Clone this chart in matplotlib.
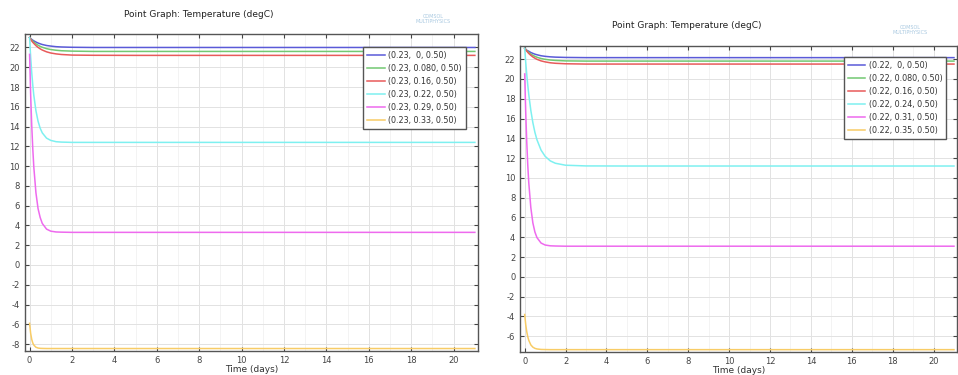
import numpy as np
import matplotlib
matplotlib.use("Agg")
import matplotlib.pyplot as plt

plt.rcParams["axes.unicode_minus"] = False

# time points (days) shared by all series
t = [0, 0.05, 0.1, 0.15, 0.2, 0.3, 0.4, 0.5, 0.6, 0.8, 1.0, 1.25, 1.5, 2.0, 3.0, 5.0, 21.0]

# left graph: temperature (degC) at points (0.23, y, 0.50)
left_labels = ["(0.23,  0, 0.50)", "(0.23, 0.080, 0.50)", "(0.23, 0.16, 0.50)",
               "(0.23, 0.22, 0.50)", "(0.23, 0.29, 0.50)", "(0.23, 0.33, 0.50)"]
left_blue = [23.0, 22.9, 22.82, 22.74, 22.67, 22.55, 22.45, 22.37, 22.3, 22.2, 22.14, 22.08, 22.05, 22.02, 22.0, 22.0, 22.0]
left_green = [23.0, 22.87, 22.75, 22.64, 22.54, 22.37, 22.23, 22.11, 22.02, 21.88, 21.79, 21.72, 21.67, 21.63, 21.6, 21.6, 21.6]
left_red = [23.0, 22.83, 22.67, 22.53, 22.41, 22.19, 22.01, 21.86, 21.74, 21.56, 21.44, 21.35, 21.29, 21.23, 21.21, 21.2, 21.2]
left_cyan = [23.0, 21.08, 19.5, 18.22, 17.16, 15.6, 14.54, 13.83, 13.36, 12.83, 12.6, 12.47, 12.43, 12.4, 12.4, 12.4, 12.4]
left_magenta = [21.3, 17.3, 14.2, 11.8, 9.9, 7.3, 5.7, 4.8, 4.2, 3.63, 3.42, 3.34, 3.32, 3.3, 3.3, 3.3, 3.3]
left_yellow = [-5.9, -6.9, -7.51, -7.88, -8.1, -8.32, -8.4, -8.43, -8.44, -8.45, -8.45, -8.45, -8.45, -8.45, -8.45, -8.45, -8.45]

# right graph: temperature (degC) at points (0.22, y, 0.50)
right_labels = ["(0.22,  0, 0.50)", "(0.22, 0.080, 0.50)", "(0.22, 0.16, 0.50)",
                "(0.22, 0.24, 0.50)", "(0.22, 0.31, 0.50)", "(0.22, 0.35, 0.50)"]
right_blue = [23.1, 22.99, 22.9, 22.85, 22.79, 22.67, 22.58, 22.5, 22.44, 22.34, 22.28, 22.23, 22.2, 22.17, 22.15, 22.15, 22.15]
right_green = [23.1, 22.98, 22.86, 22.76, 22.67, 22.51, 22.38, 22.28, 22.19, 22.06, 21.98, 21.91, 21.87, 21.82, 21.8, 21.8, 21.8]
right_red = [23.1, 22.95, 22.81, 22.69, 22.57, 22.38, 22.22, 22.09, 21.98, 21.82, 21.72, 21.63, 21.58, 21.53, 21.5, 21.5, 21.5]
right_cyan = [23.1, 21.7, 20.47, 19.38, 18.42, 16.82, 15.58, 14.6, 13.85, 12.81, 12.18, 11.72, 11.48, 11.28, 11.21, 11.2, 11.2]
right_magenta = [20.5, 16.65, 13.66, 11.3, 9.5, 7.0, 5.45, 4.53, 3.97, 3.42, 3.22, 3.14, 3.12, 3.1, 3.1, 3.1, 3.1]
right_yellow = [-3.8, -4.81, -5.53, -6.04, -6.41, -6.87, -7.1, -7.22, -7.28, -7.33, -7.34, -7.35, -7.35, -7.35, -7.35, -7.35, -7.35]

colors = ["#5a5ad8", "#72c872", "#e85a5a", "#7ef0f0", "#ee6aee", "#f8cc66"]

fig = plt.figure(figsize=(9.58, 3.75), dpi=100)
fig.patch.set_facecolor("white")


def draw_panel(rect, series, labels, ylim, yticks, legend_anchor):
    ax = fig.add_axes(rect)
    for vals, lab, c in zip(series, labels, colors):
        ax.plot(t, vals, color=c, lw=1.1, label=lab)
    ax.set_xlim(-0.22, 21.15)
    ax.set_ylim(*ylim)
    ax.set_xticks(range(0, 21, 2))
    ax.set_yticks(yticks)
    ax.set_xticks(np.arange(1, 21, 2), minor=True)
    ax.grid(True, which="major", color="#e2e2e2", lw=0.7)
    ax.grid(True, which="minor", axis="x", color="#efefef", lw=0.5)
    ax.tick_params(direction="in", top=True, right=True, labelsize=6,
                   colors="#444444", length=3, width=0.8)
    ax.tick_params(which="minor", length=0)
    for s in ax.spines.values():
        s.set_color("#555555")
        s.set_linewidth(1.0)
    ax.set_xlabel("Time (days)", fontsize=6.5, color="#333333", labelpad=0)
    leg = ax.legend(loc="upper right", bbox_to_anchor=legend_anchor, fontsize=5.8,
                    fancybox=False, framealpha=1, edgecolor="#555555",
                    handlelength=2.2, borderpad=0.5, labelspacing=0.5,
                    handletextpad=0.4)
    leg.get_frame().set_linewidth(1.0)
    for txt in leg.get_texts():
        txt.set_color("#333333")
    return ax


draw_panel([0.026, 0.064, 0.473, 0.845],
           [left_blue, left_green, left_red, left_cyan, left_magenta, left_yellow],
           left_labels, (-8.7, 23.35), range(-8, 23, 2), (0.982, 0.972))
draw_panel([0.543, 0.061, 0.456, 0.817],
           [right_blue, right_green, right_red, right_cyan, right_magenta, right_yellow],
           right_labels, (-7.6, 23.35), range(-6, 23, 2), (0.985, 0.976))

fig.text(0.207, 0.962, "Point Graph: Temperature (degC)", ha="center", va="center",
         fontsize=6.5, color="#222222")
fig.text(0.717, 0.933, "Point Graph: Temperature (degC)", ha="center", va="center",
         fontsize=6.5, color="#222222")
fig.text(0.452, 0.950, "COMSOL\nMULTIPHYSICS", ha="center", va="center",
         fontsize=3.5, color="#a8c8e0", linespacing=0.9)
fig.text(0.950, 0.920, "COMSOL\nMULTIPHYSICS", ha="center", va="center",
         fontsize=3.5, color="#a8c8e0", linespacing=0.9)

fig.savefig("out.png", dpi=100)
